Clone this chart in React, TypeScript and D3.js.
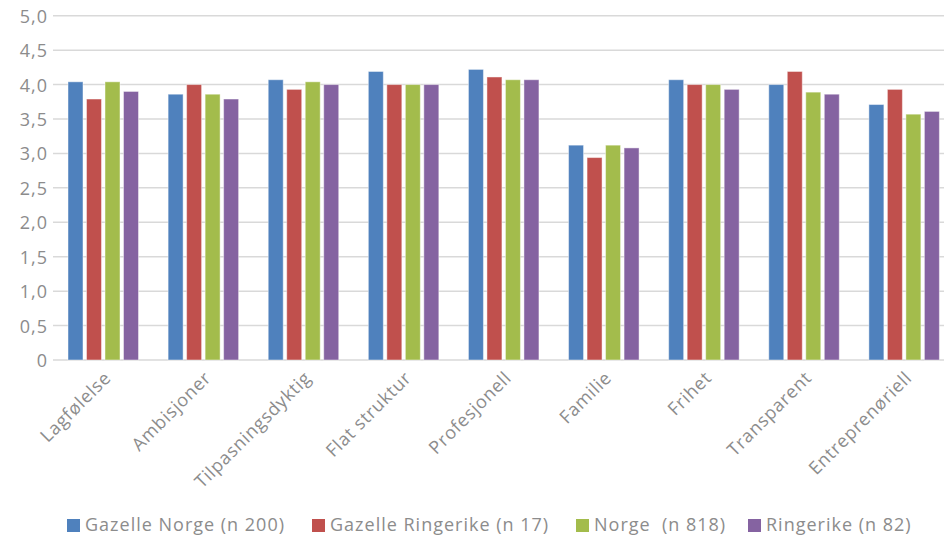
import React from "react";
import * as d3 from "d3";

const categories = [
  "Lagfølelse",
  "Ambisjoner",
  "Tilpasningsdyktig",
  "Flat struktur",
  "Profesjonell",
  "Familie",
  "Frihet",
  "Transparent",
  "Entreprenøriell",
];

const seriesNames = [
  "Gazelle Norge (n 200)",
  "Gazelle Ringerike (n 17)",
  "Norge  (n 818)",
  "Ringerike (n 82)",
];

const gazelleNorge = [4.04, 3.86, 4.07, 4.19, 4.22, 3.12, 4.07, 4.0, 3.71];
const gazelleRingerike = [3.79, 4.0, 3.93, 4.0, 4.11, 2.94, 4.0, 4.19, 3.93];
const norge = [4.04, 3.86, 4.04, 4.0, 4.07, 3.12, 4.0, 3.89, 3.57];
const ringerike = [3.9, 3.79, 4.0, 4.0, 4.07, 3.08, 3.93, 3.86, 3.61];

const yTicks = [0, 0.5, 1, 1.5, 2, 2.5, 3, 3.5, 4, 4.5, 5];
const colors = ["#4F81BD", "#C0504D", "#A3BC4C", "#8563A1"];

const W = 944;
const H = 536;
const FONT = "'Open Sans', sans-serif";
const TEXT = "#8c8c8c";

export default function App() {
  const series = [gazelleNorge, gazelleRingerike, norge, ringerike];
  const y = d3.scaleLinear().domain([0, 5]).range([360, 15.7]);
  const x0 = d3.scaleBand<string>().domain(categories).range([53, 954]).padding(0);
  const x1 = d3
    .scaleBand<number>()
    .domain(d3.range(series.length))
    .range([15, 85.5])
    .paddingInner(0.19)
    .paddingOuter(0);
  const fmt = (v: number) => (v === 0 ? "0" : d3.format(".1f")(v).replace(".", ","));
  const legendX = [67, 312, 576, 748];

  return (
    <svg
      width={W}
      height={H}
      style={{ position: "absolute", left: 0, top: 0, background: "#fff" }}
      fontFamily={FONT}
    >
      {yTicks.map((t) => (
        <g key={t}>
          <line x1={53} x2={W} y1={y(t)} y2={y(t)} stroke="#d9d9d9" strokeWidth={1.5} />
          <text
            x={48}
            y={y(t)}
            textAnchor="end"
            dominantBaseline="central"
            fontSize={18}
            letterSpacing={1}
            fill={TEXT}
          >
            {fmt(t)}
          </text>
        </g>
      ))}
      {categories.map((c, i) => (
        <g key={c} transform={`translate(${x0(c)},0)`}>
          {series.map((s, j) => (
            <rect
              key={j}
              x={x1(j)}
              y={y(s[i])}
              width={x1.bandwidth()}
              height={y(0) - y(s[i])}
              fill={colors[j]}
              stroke="rgba(255,255,255,0.45)"
              strokeWidth={1}
            />
          ))}
        </g>
      ))}
      {categories.map((c) => {
        const cx = (x0(c) as number) + x0.bandwidth() / 2 + 9;
        const cy = 379;
        return (
          <text
            key={c}
            x={cx}
            y={cy}
            textAnchor="end"
            fontSize={18}
            letterSpacing={0.7}
            fill={TEXT}
            transform={`rotate(-45 ${cx} ${cy})`}
          >
            {c}
          </text>
        );
      })}
      {seriesNames.map((n, j) => (
        <g key={n}>
          <rect x={legendX[j]} y={519} width={13} height={13} fill={colors[j]} />
          <text
            x={legendX[j] + 18}
            y={531}
            fontSize={18}
            letterSpacing={1}
            fill={TEXT}
            style={{ whiteSpace: "pre" }}
          >
            {n}
          </text>
        </g>
      ))}
    </svg>
  );
}
